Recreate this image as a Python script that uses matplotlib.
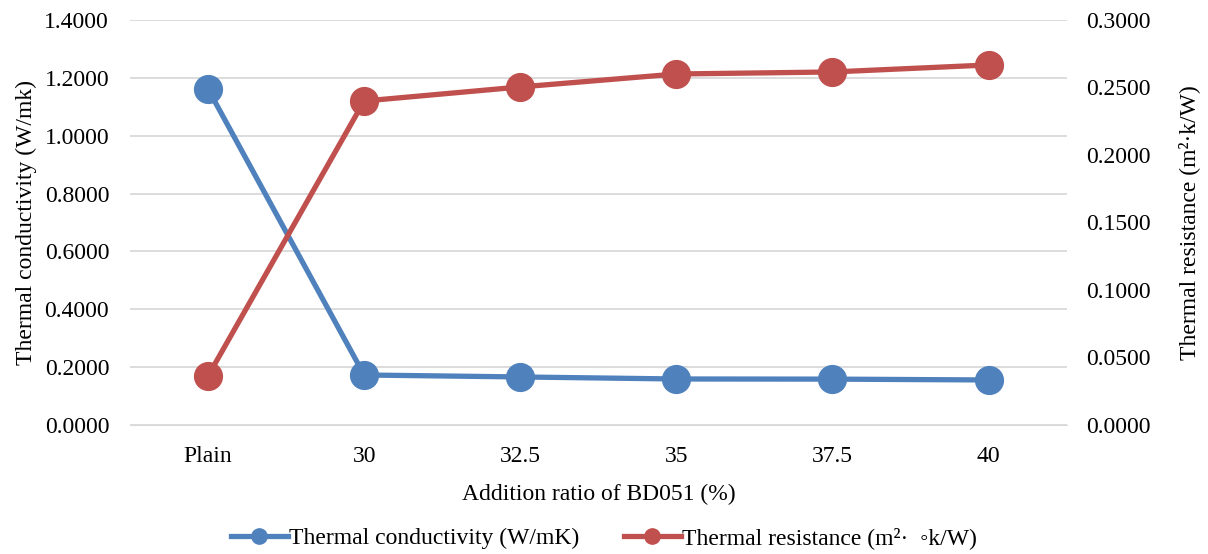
import matplotlib.pyplot as plt

categories = ['Plain', '30', '32.5', '35', '37.5', '40']
conductivity = [1.1615, 0.1728, 0.1660, 0.1590, 0.1585, 0.1556]
resistance = [0.0363, 0.2400, 0.2504, 0.2600, 0.2615, 0.2667]
left_ticks = [0.0, 0.2, 0.4, 0.6, 0.8, 1.0, 1.2, 1.4]
right_ticks = [0.0, 0.05, 0.10, 0.15, 0.20, 0.25, 0.30]

blue = '#4F81BD'
red = '#C0504D'
plt.rcParams['font.family'] = ['Liberation Serif', 'DejaVu Sans']
fs = 17

fig = plt.figure(figsize=(12.08, 5.54), dpi=100)
ax = fig.add_axes([0.1076, 0.2329, 0.7754, 0.731])
ax2 = ax.twinx()

x = list(range(len(categories)))
l1, = ax.plot(x, conductivity, color=blue, lw=3.8, marker='o', ms=20, label='Thermal conductivity (W/mK)', zorder=3)
l2, = ax2.plot(x, resistance, color=red, lw=3.8, marker='o', ms=20, label='Thermal resistance (m²·  \u25e6k/W)', zorder=3)

ax.set_xlim(-0.5, len(categories) - 0.5)
ax.set_ylim(0, 1.4)
ax2.set_ylim(0, 0.3)
ax.set_yticks(left_ticks)
ax.set_yticklabels(['%.4f' % v for v in left_ticks])
ax2.set_yticks(right_ticks)
ax2.set_yticklabels(['%.4f' % v for v in right_ticks])
ax.set_xticks(x)
ax.set_xticklabels(categories)

ax.grid(axis='y', color='#D9D9D9', lw=1.3)
ax.set_axisbelow(True)
for a in (ax, ax2):
    for s in a.spines.values():
        s.set_visible(False)
    a.tick_params(length=0, labelsize=fs)
ax.spines['bottom'].set_visible(True)
ax.spines['bottom'].set_color('#D9D9D9')
ax.tick_params(axis='y', pad=15)
ax.tick_params(axis='x', pad=15)
ax2.tick_params(axis='y', pad=14)

ax.set_ylabel('Thermal conductivity (W/mk)', fontsize=fs, labelpad=5)
ax2.set_ylabel('Thermal resistance (m²·k/W)', fontsize=fs, labelpad=20)
ax.set_xlabel('Addition ratio of BD051 (%)', fontsize=fs, labelpad=12)

fig.legend(handles=[l1, l2], loc='lower center', bbox_to_anchor=(0.5, -0.03), ncol=2,
           frameon=False, fontsize=fs, markerscale=0.55, handlelength=2.4, columnspacing=1.9, handletextpad=0.05)

fig.savefig('out.png', dpi=100)
